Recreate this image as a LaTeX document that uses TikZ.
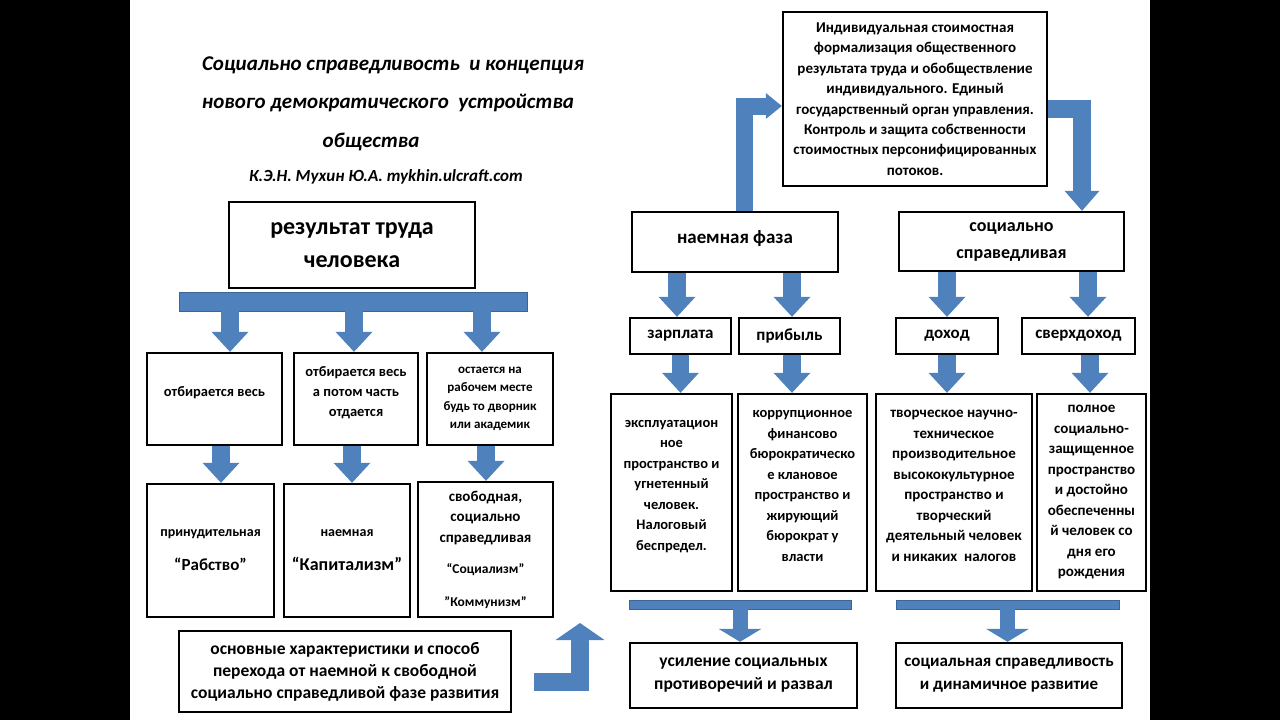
\documentclass[tikz,border=0pt]{standalone}
\usepackage{fontspec}
\setmainfont{Carlito}
\usetikzlibrary{arrows.meta}
\definecolor{arrowblue}{RGB}{79,129,189}
\definecolor{arrowedge}{RGB}{60,100,150}

\begin{document}
\begin{tikzpicture}[x=1pt,y=-1pt]

	% --- fondo / campo ---
	\useasboundingbox (0,0) rectangle (1280,720);
	\fill[black] (0,0) rectangle (1280,720);
	\fill[white] (130,0) rectangle (1150,720);

	% --- tamaño de letra ---
	\newcommand{\Fs}[2]{\fontsize{#1}{#2}\selectfont\bfseries}

	% estilos
	\tikzset{
		box/.style     = {draw, line width=2.4pt, align=center, inner sep=0pt},
		title/.style   = {align=center, inner sep=0pt, font=\Fs{21}{25}\itshape},
		bar/.style     = {fill=arrowblue, draw=arrowedge, line width=0.8pt, inner sep=0pt},
		blk/.style     = {arrowblue, line width=17.5pt, line join=miter,
		                  -{Triangle[width=37pt,length=20pt,line width=0pt]}},
		blkthin/.style = {arrowblue, line width=15pt,
		                  -{Triangle[width=43pt,length=13pt,line width=0pt]}},
		blkup/.style   = {arrowblue, line width=18pt, line join=miter,
		                  -{Triangle[width=49pt,length=17pt,line width=0pt]}},
		blkin/.style   = {arrowblue, line width=17pt, line join=miter,
		                  -{Triangle[width=26pt,length=16pt,line width=0pt]}},
		blkout/.style  = {arrowblue, line width=18pt, line join=miter,
		                  -{Triangle[width=35pt,length=20pt,line width=0pt]}},
	}

	% --- titulo ---
	\node[title] (t1) at (393,65)  {Социально справедливость\ \ и концепция};
	\node[title] (t2) at (388,103) {нового демократического\ \ устройства};
	\node[title] (t3) at (371,142) {общества};
	\node[title, font=\Fs{17}{19}\itshape] (auth) at (386,177) {К.Э.Н. Мухин Ю.А. mykhin.ulcraft.com};

	% --- lado izquierdo ---
	\node[box, minimum width=246pt, minimum height=86pt, font=\Fs{24}{33}] (res) at (352,245) {результат труда\\человека};
	\node[bar, minimum width=348pt, minimum height=19pt] (bar1) at (353,301.5) {};

	\node[box, minimum width=135pt, minimum height=92pt, font=\Fs{14.5}{20}] (a1) at (214.5,399) {отбирается весь\\[-6pt]};
	\node[box, minimum width=124pt, minimum height=92pt, font=\Fs{14.5}{20}] (a2) at (356,399) {отбирается весь\\а потом часть\\отдается\\[-6pt]};
	\node[box, minimum width=126pt, minimum height=92pt, font=\Fs{13}{18.5}] (a3) at (490,399) {остается на\\рабочем месте\\будь то дворник\\или академик};

	\node[box, minimum width=127pt, minimum height=133pt, font=\Fs{14}{20}] (b1) at (210.5,550.5) {принудительная\\[14pt]{\fontsize{17}{20}\selectfont “Рабство”}};
	\node[box, minimum width=126pt, minimum height=133pt, font=\Fs{14}{20}] (b2) at (347,550.5) {наемная\\[14pt]{\fontsize{18}{20}\selectfont “Капитализм”}};
	\node[box, minimum width=135pt, minimum height=135pt, font=\Fs{15}{20.5}] (b3) at (485.5,549.5) {свободная,\\социально\\справедливая\\[10.5pt]{\fontsize{13.5}{20}\selectfont “Социализм”}\\[12.5pt]{\fontsize{13.5}{20}\selectfont ”Коммунизм”}};

	\node[box, minimum width=332pt, minimum height=81pt, font=\Fs{17.5}{22}] (cbox) at (345,671.5) {основные характеристики и способ\\перехода от наемной к свободной\\социально справедливой фазе развития};

	\draw[blk] ([xshift=15.5pt]a1.north |- bar1.south) -- ([xshift=15.5pt]a1.north);
	\draw[blk] ([xshift=-2pt]a2.north |- bar1.south) -- ([xshift=-2pt]a2.north);
	\draw[blk] ([xshift=-8pt]a3.north |- bar1.south) -- ([xshift=-8pt]a3.north);

	\draw[blk] ([xshift=6.5pt]a1.south) -- ([xshift=6.5pt]a1.south |- b1.north);
	\draw[blk] ([xshift=-4pt]a2.south) -- ([xshift=-4pt]a2.south |- b2.north);
	\draw[blk] ([xshift=-4pt]a3.south) -- ([xshift=-4pt]a3.south |- b3.north);

	% flecha de paso
	\coordinate (up) at (580,623);
	\draw[blkup] ([xshift=22pt,yshift=-10.5pt]cbox.east) -| (up);

	% --- lado derecho ---
	\node[box, minimum width=264pt, minimum height=174pt, font=\Fs{15}{20.4}] (ind) at (915,99) {Индивидуальная стоимостная\\формализация общественного\\результата труда и обобществление\\индивидуального. Единый\\государственный орган управления.\\Контроль и защита собственности\\стоимостных персонифицированных\\потоков.};

	\node[box, minimum width=206pt, minimum height=60pt, font=\Fs{19}{20}] (emp) at (735,242) {наемная фаза\\[-10pt]};
	\node[box, minimum width=225pt, minimum height=59pt, font=\Fs{18}{27}] (soc) at (1011.5,241.5) {социально\\справедливая};

	\draw[blkin] ([xshift=9pt]emp.north) |- ([yshift=-7pt]ind.west);
	\draw[blkout] ([yshift=-9.5pt]ind.east) -| ([xshift=70.5pt]soc.north);

	\node[box, minimum width=101pt, minimum height=36pt, font=\Fs{17}{18}] (zar) at (680.5,336) {зарплата};
	\node[box, minimum width=101pt, minimum height=36pt, font=\Fs{17}{18}] (pri) at (789.5,336) {прибыль};
	\node[box, minimum width=102pt, minimum height=36pt, font=\Fs{17}{18}] (doh) at (947,336) {доход};
	\node[box, minimum width=113pt, minimum height=36pt, font=\Fs{17}{18}] (sve) at (1078.5,336) {сверхдоход};

	\draw[blk] ([xshift=-3.5pt]zar.north |- emp.south) -- ([xshift=-3.5pt]zar.north);
	\draw[blk] ([xshift=2.5pt]pri.north |- emp.south) -- ([xshift=2.5pt]pri.north);
	\draw[blk] (doh.north |- soc.south) -- (doh.north);
	\draw[blk] ([xshift=9.5pt]sve.north |- soc.south) -- ([xshift=9.5pt]sve.north);

	\node[box, minimum width=121pt, minimum height=197pt, font=\Fs{14.5}{20.5}] (g1) at (671.5,492.5) {эксплуатацион\\ное\\пространство и\\угнетенный\\человек.\\Налоговый\\беспредел.\\[-5.5pt]};
	\node[box, minimum width=129pt, minimum height=197pt, font=\Fs{14.5}{20.5}] (g2) at (802.5,492.5) {коррупционное\\финансово\\бюрократическо\\е клановое\\пространство и\\жирующий\\бюрократ у\\власти\\[-7.5pt]};
	\node[box, minimum width=156pt, minimum height=197pt, font=\Fs{15}{20.5}] (g3) at (954,492.5) {творческое научно-\\техническое\\производительное\\высококультурное\\пространство и\\творческий\\деятельный человек\\и никаких\ \ налогов\\[-7.5pt]};
	\node[box, minimum width=109pt, minimum height=197pt, font=\Fs{15}{20.5}] (g4) at (1091.5,492.5) {полное\\социально-\\защищенное\\пространство\\и достойно\\обеспеченны\\й человек со\\дня его\\рождения};

	\draw[blk] (zar.south) -- (zar.south |- g1.north);
	\draw[blk] ([xshift=2.5pt]pri.south) -- ([xshift=2.5pt]pri.south |- g2.north);
	\draw[blk] (doh.south) -- (doh.south |- g3.north);
	\draw[blk] ([xshift=11.5pt]sve.south) -- ([xshift=11.5pt]sve.south |- g4.north);

	\node[bar, minimum width=222pt, minimum height=9pt] (bar2) at (740,604.5) {};
	\node[bar, minimum width=223pt, minimum height=9pt] (bar3) at (1007.5,604.5) {};

	\node[box, minimum width=227pt, minimum height=65pt, font=\Fs{17.5}{23}] (h1) at (743.5,675.5) {усиление социальных\\противоречий и развал};
	\node[box, minimum width=226pt, minimum height=65pt, font=\Fs{17}{23}] (h2) at (1009,675.5) {социальная справедливость\\и динамичное развитие};

	\draw[blkthin] (bar2.south) -- (bar2.south |- h1.north);
	\draw[blkthin] (bar3.south) -- (bar3.south |- h2.north);

\end{tikzpicture}
\end{document}
